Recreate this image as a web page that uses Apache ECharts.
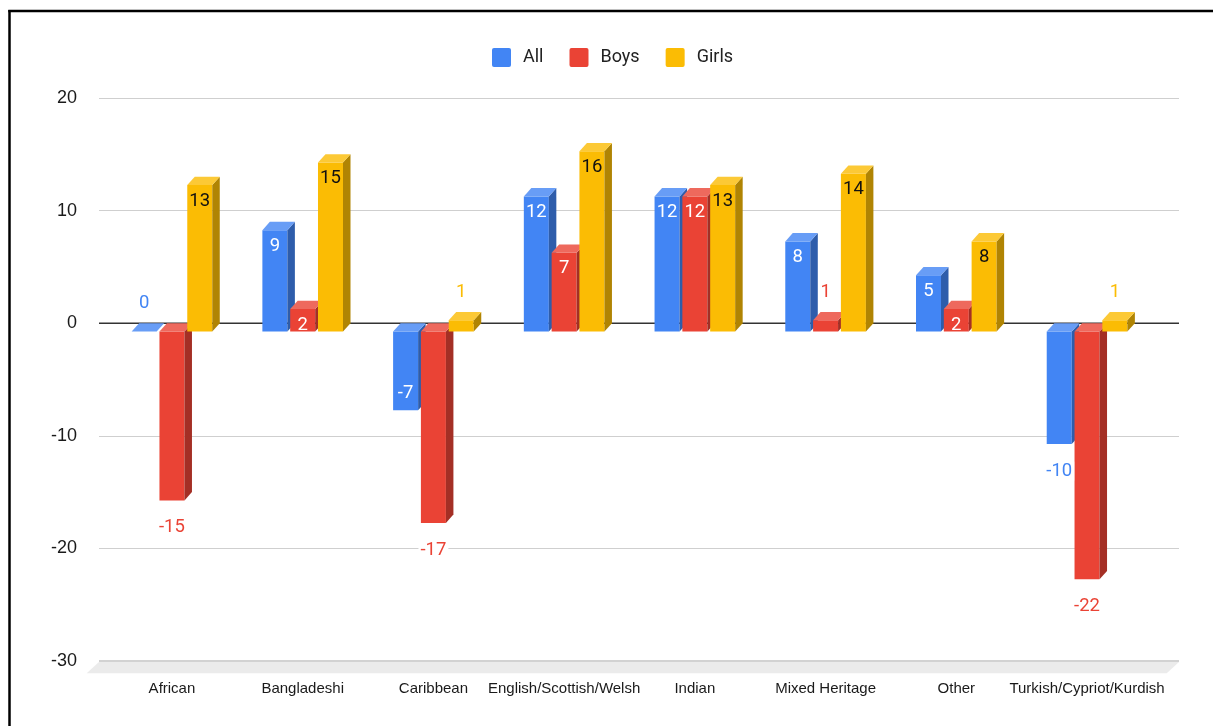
<!DOCTYPE html>
<html>
<head>
<meta charset="utf-8">
<script src="https://cdn.jsdelivr.net/npm/echarts@6/dist/echarts.min.js"></script>
<style>
  html, body { margin: 0; padding: 0; background: #fff; }
  #chart { width: 1213px; height: 726px; }
</style>
</head>
<body>
<div id="chart"></div>
<script>
const categories = ['African', 'Bangladeshi', 'Caribbean', 'English/Scottish/Welsh', 'Indian', 'Mixed Heritage', 'Other', 'Turkish/Cypriot/Kurdish'];
const seriesNames = ['All', 'Boys', 'Girls'];
const allValues = [0, 9, -7, 12, 12, 8, 5, -10];
const boysValues = [-15, 2, -17, 7, 12, 1, 2, -22];
const girlsValues = [13, 15, 1, 16, 13, 14, 8, 1];
const yMin = -30, yMax = 20, yStep = 10;

const colors = ['#4285F4', '#EA4335', '#FBBC04'];
const insideText = ['#ffffff', '#ffffff', '#111111'];
const DX = 7.5, DY = 8.3;

function shade(hex, f) {
  const n = parseInt(hex.slice(1), 16);
  const r = (n >> 16) & 255, g = (n >> 8) & 255, b = n & 255;
  const c = v => Math.max(0, Math.min(255, Math.round(v)));
  if (f < 0) {
    const k = 1 + f;
    return 'rgb(' + c(r * k) + ',' + c(g * k) + ',' + c(b * k) + ')';
  }
  return 'rgb(' + c(r + (255 - r) * f) + ',' + c(g + (255 - g) * f) + ',' + c(b + (255 - b) * f) + ')';
}

function barRenderer(k) {
  const col = colors[k];
  const side = shade(col, -0.3);
  const top = shade(col, 0.2);
  return function (params, api) {
    const i = api.value(0), v = api.value(1);
    const band = api.size([1, 0])[0];
    const pitch = band * 0.2127;
    const bw = band * 0.1913;
    const groupW = 2 * pitch + bw;
    const cx = api.coord([i, 0])[0];
    const x0 = cx - groupW / 2 + k * pitch;
    const yTop = api.coord([i, Math.max(v, 0)])[1] + DY;
    const yBot = api.coord([i, Math.min(v, 0)])[1] + DY;
    const children = [];
    if (yBot - yTop > 0.5) {
      children.push({ type: 'rect', shape: { x: x0, y: yTop, width: bw, height: yBot - yTop }, style: { fill: col } });
      children.push({ type: 'polygon', shape: { points: [[x0 + bw, yBot], [x0 + bw + DX, yBot - DY], [x0 + bw + DX, yTop - DY], [x0 + bw, yTop]] }, style: { fill: side } });
    }
    children.push({ type: 'polygon', shape: { points: [[x0, yTop], [x0 + bw, yTop], [x0 + bw + DX, yTop - DY], [x0 + DX, yTop - DY]] }, style: { fill: top } });
    const inside = v >= 2 || (v < 0 && v > -10);
    let ly, fill, bg = null;
    if (inside) {
      ly = v > 0 ? yTop + 16 : yBot - 17;
      fill = insideText[k];
    } else {
      ly = v >= 0 ? yTop - 28 : yBot + 27;
      fill = col;
      bg = '#ffffff';
    }
    children.push({
      type: 'text', z2: 100,
      style: {
        text: String(Math.round(v)), x: x0 + bw / 2, y: ly,
        align: 'center', verticalAlign: 'middle', fill: fill,
        fontSize: 18.5, fontFamily: 'Roboto', backgroundColor: bg, padding: [0, 2]
      }
    });
    return { type: 'group', children: children };
  };
}

const valueSets = [allValues, boysValues, girlsValues];

const chart = echarts.init(document.getElementById('chart'), null, { renderer: 'canvas' });
const option = {
  animation: false,
  backgroundColor: '#ffffff',
  legend: {
    data: seriesNames,
    left: 487, top: 43,
    icon: 'path://M2,0 H17 A2,2 0 0 1 19,2 V17 A2,2 0 0 1 17,19 H2 A2,2 0 0 1 0,17 V2 A2,2 0 0 1 2,0 Z',
    itemWidth: 19, itemHeight: 19, itemGap: 26,
    textStyle: { fontFamily: 'Roboto', fontSize: 18, color: '#222', padding: [0, 0, 0, 7] }
  },
  grid: [
    { left: 99, right: 34, top: 98, bottom: 65 },
    { left: 106.6, right: 60.6, top: 98, bottom: 65 }
  ],
  xAxis: [
    { gridIndex: 0, type: 'value', min: 0, max: 1, show: false },
    {
      gridIndex: 1, type: 'category', data: categories,
      axisLine: { show: false }, axisTick: { show: false },
      axisLabel: { interval: 0, margin: 20, fontFamily: 'Liberation Sans, Arial', fontSize: 15, color: '#1a1a1a' }
    }
  ],
  yAxis: [
    {
      gridIndex: 0, type: 'value', min: yMin, max: yMax, interval: yStep,
      axisLine: { show: false }, axisTick: { show: false },
      axisLabel: { margin: 22, fontFamily: 'Liberation Sans, Arial', fontSize: 18, color: '#1a1a1a' },
      splitLine: { lineStyle: { color: '#cfcfcf', width: 1 } }
    },
    { gridIndex: 1, type: 'value', min: yMin, max: yMax, interval: yStep, show: false, splitLine: { show: false } }
  ],
  series: [
    {
      type: 'custom', name: 'decor', xAxisIndex: 0, yAxisIndex: 0, silent: true,
      data: [[0, yMin]],
      renderItem: function (params, api) {
        const bl = api.coord([0, yMin]);
        const br = api.coord([1, yMin]);
        const zl = api.coord([0, 0]);
        const zr = api.coord([1, 0]);
        const d = 12.3;
        return {
          type: 'group', children: [
            { type: 'polygon', shape: { points: [[bl[0], bl[1] + 1], [br[0], br[1] + 1], [br[0] - d, br[1] + d], [bl[0] - d, bl[1] + d]] }, style: { fill: '#ebebeb' } },
            { type: 'line', shape: { x1: bl[0], y1: bl[1], x2: br[0], y2: br[1] }, style: { stroke: '#d2d2d2', lineWidth: 2 } },
            { type: 'line', shape: { x1: zl[0], y1: zl[1], x2: zr[0], y2: zr[1] }, style: { stroke: '#333333', lineWidth: 1.5 } }
          ]
        };
      }
    }
  ].concat(seriesNames.map(function (name, k) {
    return {
      type: 'custom', name: name, xAxisIndex: 1, yAxisIndex: 1,
      itemStyle: { color: colors[k] },
      encode: { x: 0, y: 1 },
      data: valueSets[k].map(function (v, i) { return [i, v]; }),
      renderItem: barRenderer(k)
    };
  })),
  graphic: [
    { type: 'line', shape: { x1: 9.5, y1: 10, x2: 9.5, y2: 726 }, style: { stroke: '#000', lineWidth: 2.5 }, z: 100 },
    { type: 'line', shape: { x1: 8.3, y1: 11, x2: 1213, y2: 11 }, style: { stroke: '#000', lineWidth: 2.5 }, z: 100 }
  ]
};
chart.setOption(option);
</script>
</body>
</html>
